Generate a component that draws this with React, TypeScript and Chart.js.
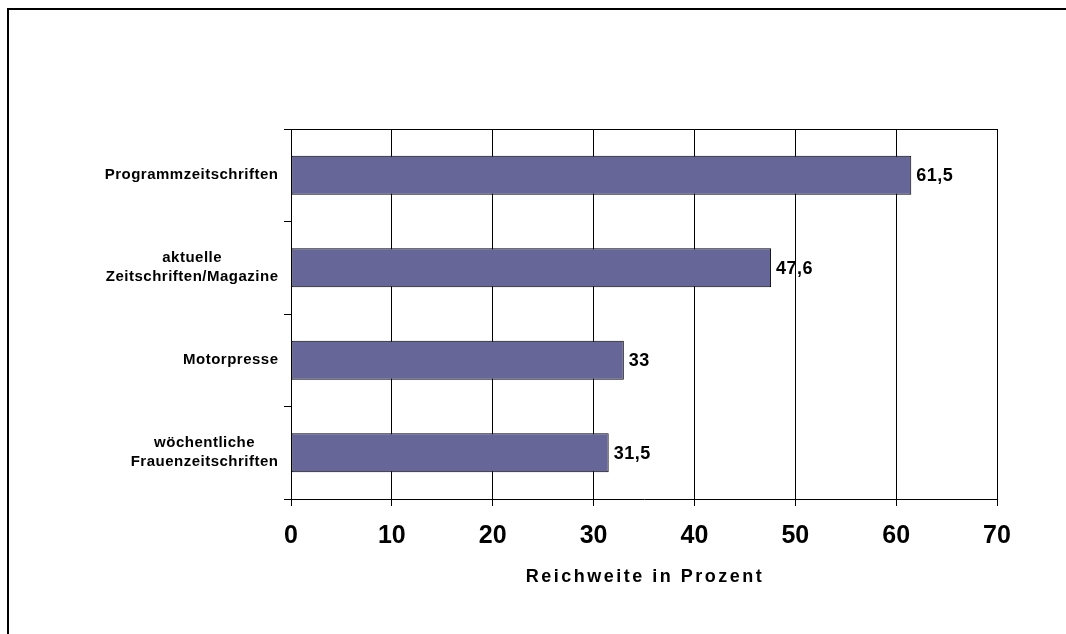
import React, { useEffect, useRef } from "react";
import { Chart, registerables } from "chart.js";

Chart.register(...registerables);

const categories: string[][] = [
  ["Programmzeitschriften"],
  ["aktuelle", "Zeitschriften/Magazine"],
  ["Motorpresse"],
  ["wöchentliche", "Frauenzeitschriften"],
];
const values: number[] = [61.5, 47.6, 33, 31.5];
const xMin = 0;
const xMax = 70;
const xStep = 10;
const axisTitle = "Reichweite in Prozent";

const FONT = "'Liberation Sans', Arial, Helvetica, sans-serif";

const labelPlugin = {
  id: "customLabels",
  afterDraw(chart: any) {
    const ctx = chart.ctx;
    const area = chart.chartArea;
    const yScale = chart.scales.y;
    ctx.save();
    // top frame line of the plot area
    ctx.strokeStyle = "#000";
    ctx.lineWidth = 1;
    ctx.beginPath();
    ctx.moveTo(area.left, Math.round(area.top) + 0.5);
    ctx.lineTo(area.right, Math.round(area.top) + 0.5);
    ctx.stroke();

    // category labels
    ctx.fillStyle = "#000";
    ctx.font = `bold 15px ${FONT}`;
    (ctx as any).letterSpacing = "0.5px";
    ctx.textBaseline = "middle";
    ctx.textAlign = "center";
    const rightEdge = yScale.right - 13;
    const lh = 19;
    categories.forEach((lines, i) => {
      const cy = yScale.getPixelForValue(i);
      let maxW = 0;
      lines.forEach((l) => {
        maxW = Math.max(maxW, ctx.measureText(l).width);
      });
      const cx = rightEdge - maxW / 2;
      const y0 = cy - ((lines.length - 1) * lh) / 2;
      lines.forEach((l, k) => {
        ctx.fillText(l, cx + 0.5, y0 + k * lh);
      });
    });

    // value labels
    (ctx as any).letterSpacing = "0.5px";
    ctx.font = `bold 18px ${FONT}`;
    ctx.textAlign = "left";
    const meta = chart.getDatasetMeta(0);
    meta.data.forEach((bar: any, i: number) => {
      const txt = String(values[i]).replace(".", ",");
      ctx.fillText(txt, bar.x + 5, bar.y + 1);
    });

    // axis title
    (ctx as any).letterSpacing = "2.5px";
    ctx.font = `bold 18px ${FONT}`;
    ctx.textAlign = "center";
    const cxT = (area.left + area.right) / 2;
    ctx.fillText(axisTitle, cxT + 1, 567);
    ctx.restore();
  },
};

export default function App() {
  const canvasRef = useRef<HTMLCanvasElement | null>(null);

  useEffect(() => {
    if (!canvasRef.current) return;
    const chart = new Chart(canvasRef.current, {
      type: "bar",
      data: {
        labels: categories.map((c) => c.join(" ")),
        datasets: [
          {
            data: values,
            backgroundColor: "#666699",
            borderColor: "#000",
            borderWidth: 1,
            borderSkipped: false,
            barPercentage: 0.42,
            categoryPercentage: 1,
          },
        ],
      },
      options: {
        indexAxis: "y",
        animation: false,
        responsive: true,
        maintainAspectRatio: false,
        layout: { padding: { left: 0, right: 61, top: 119, bottom: 0 } },
        plugins: {
          legend: { display: false },
          tooltip: { enabled: false },
          title: { display: false },
        },
        scales: {
          x: {
            type: "linear",
            min: xMin,
            max: xMax,
            ticks: {
              stepSize: xStep,
              color: "#000",
              padding: 15,
              font: { family: FONT, size: 25, weight: "bold" },
            },
            grid: {
              color: "#000",
              lineWidth: 1,
              drawOnChartArea: true,
              drawTicks: true,
              tickLength: 7,
              tickColor: "#000",
            },
            border: { display: true, color: "#000", width: 1 },
            afterFit(scale: any) {
              scale.height = 127;
            },
          },
          y: {
            type: "category",
            ticks: { display: false },
            grid: {
              offset: true,
              drawOnChartArea: false,
              drawTicks: true,
              tickLength: 7,
              color: "#000",
              tickColor: "#000",
            },
            border: { display: true, color: "#000", width: 1 },
            afterFit(scale: any) {
              scale.width = 281;
            },
          },
        },
      },
      plugins: [labelPlugin],
    } as any);
    return () => chart.destroy();
  }, []);

  return (
    <div
      style={{
        position: "fixed",
        left: 7,
        top: 8,
        width: 1200,
        height: 800,
        borderTop: "2px solid #000",
        borderLeft: "2px solid #000",
        background: "#fff",
      }}
    >
      <div style={{ position: "absolute", left: 1, top: 0, width: 1048, height: 616 }}>
        <canvas ref={canvasRef} />
      </div>
    </div>
  );
}
